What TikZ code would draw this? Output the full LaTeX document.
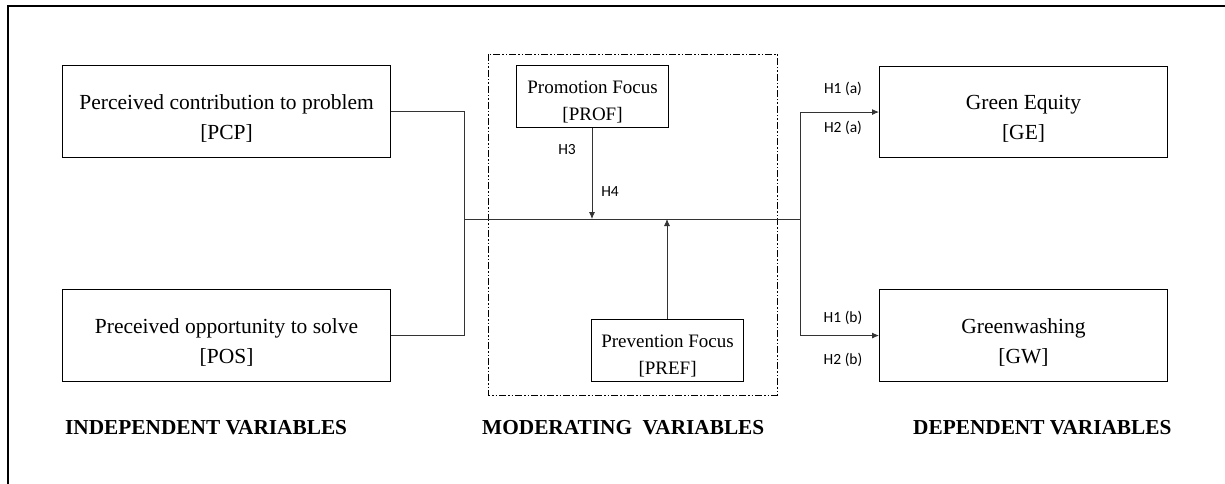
\documentclass[tikz,border=0pt]{standalone}
\usepackage{fontspec}
\setmainfont{Liberation Serif}
\newfontfamily\hfont{Carlito}
\usetikzlibrary{arrows.meta}
\begin{document}
\begin{tikzpicture}[x=1pt,y=-1pt,
  varbox/.style={draw,line width=1.1pt,inner sep=0pt,anchor=north west},
  vartext/.style={align=center,inner sep=0pt,font=\fontsize{21.5}{30}\selectfont},
  modtext/.style={align=center,inner sep=0pt,font=\fontsize{19}{26.5}\selectfont},
  conn/.style={line width=0.8pt,draw=black!80},
  arr/.style={conn,-{Latex[length=7pt,width=6pt]}},
  hlab/.style={font=\hfont\fontsize{15.5}{18}\selectfont,inner sep=0pt},
  grp/.style={font=\bfseries\fontsize{21.3}{24}\selectfont,inner sep=0pt,anchor=west}]
\useasboundingbox (0,0) rectangle (1225,484);
% outer frame (clipped at right and bottom)
\coordinate (fc) at (8,6);
\coordinate (fr) at (1225,6);
\coordinate (fb) at (8,484);
\draw[line width=1.8pt] (fr) -- (fc) -- (fb);
% moderating group
\draw[line width=0.9pt,dash pattern=on 7pt off 2pt on 1.5pt off 2pt on 1.5pt off 2pt] (488,54) rectangle (777,395);
% boxes
\node[varbox,minimum width=328pt,minimum height=92pt] (pcp) at (62,65) {};
\node[vartext,yshift=-7pt] (pcpt) at (pcp.center) {Perceived contribution to problem\\\relax[PCP]};
\node[varbox,minimum width=328pt,minimum height=92pt] (pos) at (62,289) {};
\node[vartext,yshift=-7pt] (post) at (pos.center) {Preceived opportunity to solve\\\relax[POS]};
\node[varbox,minimum width=288pt,minimum height=91pt] (ge) at (879,66) {};
\node[vartext,yshift=-7pt] (get) at (ge.center) {Green Equity\\\relax[GE]};
\node[varbox,minimum width=288pt,minimum height=92pt] (gw) at (879,289) {};
\node[vartext,yshift=-7pt] (gwt) at (gw.center) {Greenwashing\\\relax[GW]};
\node[varbox,minimum width=152pt,minimum height=62pt] (prof) at (516,65) {};
\node[modtext,yshift=-5.5pt] (proft) at (prof.center) {Promotion Focus\\\relax[PROF]};
\node[varbox,minimum width=152pt,minimum height=62pt] (pref) at (591,319) {};
\node[modtext,yshift=-5.5pt] (preft) at (pref.center) {Prevention Focus\\\relax[PREF]};
% connectors
\coordinate (jl) at (464,219);
\coordinate (jr) at (800,219);
\draw[conn] (pcp.east) -| (jl);
\draw[conn] (pos.east) -| (jl);
\draw[conn] (jl) -- (jr);
\draw[arr] (jr) |- (ge.west);
\draw[arr] (jr) |- (gw.west);
\draw[arr] (prof.south -| 592,0) -- (592,219);
\draw[arr] (pref.north -| 667,0) -- (667,219);
% labels
\node[hlab] (h3) at (567,150) {H3};
\node[hlab] (h4) at (610,192) {H4};
\node[hlab] (h1a) at (843,89) {H1 (a)};
\node[hlab] (h2a) at (843,128) {H2 (a)};
\node[hlab] (h1b) at (843,318) {H1 (b)};
\node[hlab] (h2b) at (843,360) {H2 (b)};
\node[grp] (gi) at (65,428) {INDEPENDENT VARIABLES};
\node[grp] (gm) at (482,428) {MODERATING\ \ VARIABLES};
\node[grp] (gd) at (913,428) {DEPENDENT VARIABLES};
\end{tikzpicture}
\end{document}
